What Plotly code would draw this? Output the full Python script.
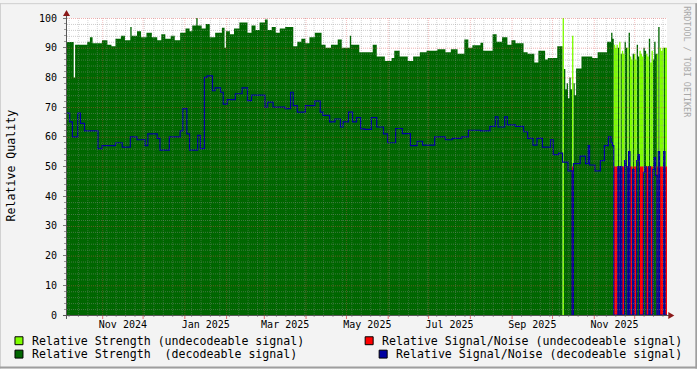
import pandas as pd
import plotly.graph_objects as go

# ---------------- data ----------------
START = pd.Timestamp("2024-10-05 12:00")
END = START + pd.Timedelta(days=445.5)

# Relative strength (decodeable signal): step breakpoints (day offset from START, value)
str_dec_day = [0, 5, 6, 15, 17, 19, 26, 30, 33, 36, 40, 43, 47, 48, 52, 55, 59, 63, 67, 70,
               73, 77, 80, 84, 88, 91, 93, 96, 97, 100, 103, 106, 110, 115, 117, 118, 121, 124, 128, 134,
               137, 140, 143, 147, 149, 152, 155, 158, 162, 168, 171, 174, 177, 180, 184, 189, 192, 196, 201, 204,
               210, 211, 217, 227, 230, 236, 241, 243, 247, 253, 257, 262, 267, 275, 281, 285, 290, 295, 298, 301,
               307, 309, 316, 319, 323, 327, 330, 333, 339, 342, 347, 350, 355, 357, 364, 368, 369, 370, 371, 372,
               373, 374, 375, 376, 377, 378, 382, 390, 394, 401, 404]
str_dec_val = [91.9, 80, 91, 92, 93.5, 91.5, 92.5, 91, 90.5, 93, 94, 92.5, 97, 94, 95.5, 93.5, 95, 93.5, 92.5, 94.5,
               93, 94, 92.5, 95, 96.5, 95.5, 97.5, 100, 97.5, 96.5, 98, 93.5, 95, 96.7, 90, 95.5, 94.5, 96.5, 98.5, 95,
               97.5, 96, 98.5, 99.5, 96, 97, 95, 96.5, 97, 90.5, 92, 93, 91.5, 93.5, 95, 91, 90, 91, 92.8, 90,
               94, 91, 88.5, 91, 87, 85.5, 86.5, 89, 87, 85.5, 87, 88.5, 89, 89.5, 88.5, 89.5, 88, 92.8, 90, 90.8,
               91.7, 89, 94.5, 92, 93.5, 91, 92.5, 91.5, 88.5, 88, 85, 89, 86, 86.5, 90.5, 0, 82.8, 76, 78, 73,
               80, 76, 0, 78, 74, 83, 87, 86.5, 88.5, 92, 95]

# Relative strength (undecodeable signal)
str_und_day = [0, 368, 369, 375, 376]
str_und_val = [0, 100, 0, 94, 0]

# Relative signal/noise (decodeable signal)
snr_dec_day = [0, 2, 4, 8, 10, 13, 23, 26, 36, 41, 47, 52, 58, 60, 67, 69, 76, 84, 86, 89,
               91, 97, 99, 102, 104, 108, 110, 114, 116, 119, 125, 130, 134, 137, 147, 149, 153, 162, 166, 168,
               171, 177, 184, 188, 190, 195, 199, 203, 205, 209, 212, 215, 218, 221, 226, 230, 235, 238, 244, 249,
               255, 260, 264, 273, 281, 286, 293, 298, 307, 314, 318, 320, 325, 327, 333, 339, 342, 346, 349, 353,
               359, 361, 365, 368, 372, 375, 376, 381, 385, 387, 388, 392, 396, 399, 402, 404]
snr_dec_val = [68, 65, 60, 68, 64.5, 62, 56, 57, 58, 56.5, 60, 59, 57, 61, 59.5, 55.5, 60, 62, 69.5, 61,
               55.5, 60.5, 56, 80, 80.5, 75.5, 76.5, 75, 71, 72.5, 74.5, 76.5, 72.2, 74, 70, 71.7, 70, 69.5, 75, 70.5,
               68.3, 70.5, 72, 68.3, 67.2, 65, 66, 63.3, 65, 68.3, 65, 66.5, 62.7, 62.5, 66.5, 63.3, 61, 58, 62.8, 61.1,
               57, 58.5, 57.2, 60, 59, 59.5, 60, 62.2, 62, 63.5, 66.7, 63.3, 66.7, 64, 63.5, 61.7, 59.5, 57.2, 59.5, 56.5,
               59, 54, 54.5, 51.5, 48.5, 0, 51, 53.5, 51, 57, 50.5, 48.5, 52, 57, 60, 58]

# Relative signal/noise (undecodeable signal)
snr_und_day = [0, 375, 376]
snr_und_val = [0, 50, 0]

# Last weeks, one entry per day from day 405: decodeable flag, strength, signal/noise
tail_day0 = 405
tail_ok = [1, 0, 0, 0, 1, 0, 1, 0, 0, 1, 1, 0, 1, 0, 0, 1, 0, 0, 1, 1,
           0, 0, 0, 1, 1, 0, 0, 1, 0, 0, 1, 1, 1, 0, 1, 0, 0, 0, 1, 0]
tail_strength = [93, 91, 90, 91, 90, 92, 88, 89, 88, 92, 90, 90, 95, 87, 86, 88, 88, 86, 91, 87,
                 89, 88, 87, 90, 89, 88, 87, 93, 85, 89, 86, 92, 88, 88, 97, 90, 89, 90, 90, 90]
tail_snr = [57, 50, 50, 50, 50, 50, 50, 50, 50, 52, 50, 50, 55, 50, 50, 49, 50, 50, 52, 54,
            50, 50, 50, 48, 50, 50, 50, 50, 50, 50, 49, 53, 47, 50, 55, 50, 50, 50, 55, 50]

y_ticks = list(range(0, 101, 10))
x_label_months = ["2024-11", "2025-01", "2025-03", "2025-05", "2025-07", "2025-09", "2025-11"]
x_label_text = ["Nov 2024", "Jan 2025", "Mar 2025", "May 2025", "Jul 2025", "Sep 2025", "Nov 2025"]

assert len(str_dec_day) == len(str_dec_val)
assert len(snr_dec_day) == len(snr_dec_val)
assert len(tail_ok) == len(tail_strength) == len(tail_snr)

# ---------------- build series ----------------
def build(days, vals, tail_vals):
    d = list(days) + [tail_day0 + i for i in range(len(tail_vals))]
    v = list(vals) + list(tail_vals)
    x = [START + pd.Timedelta(days=k) for k in d] + [END]
    v = v + [v[-1]]
    return x, v

x_sd, y_sd = build(str_dec_day, str_dec_val, [s if ok else 0 for s, ok in zip(tail_strength, tail_ok)])
x_su, y_su = build(str_und_day, str_und_val, [0 if ok else s for s, ok in zip(tail_strength, tail_ok)])
x_nu, y_nu = build(snr_und_day, snr_und_val, [0 if ok else s for s, ok in zip(tail_snr, tail_ok)])
x_nd, y_nd = build(snr_dec_day, snr_dec_val, [s if ok else 0 for s, ok in zip(tail_snr, tail_ok)])

DARK = "#006600"
LIGHT = "#7FFF00"
RED = "#FF0000"
BLUE = "#0000A0"
FONT = "DejaVu Sans Mono"

fig = go.Figure()
fig.add_trace(go.Scatter(x=x_sd, y=y_sd, mode="lines", line=dict(shape="hv", width=0, color=DARK),
                         fill="tozeroy", fillcolor=DARK, hoverinfo="skip", showlegend=False))
fig.add_trace(go.Scatter(x=x_su, y=y_su, mode="lines", line=dict(shape="hv", width=0, color=LIGHT),
                         fill="tozeroy", fillcolor=LIGHT, hoverinfo="skip", showlegend=False))
fig.add_trace(go.Scatter(x=x_nu, y=y_nu, mode="lines", line=dict(shape="hv", width=0, color=RED),
                         fill="tozeroy", fillcolor=RED, hoverinfo="skip", showlegend=False))
fig.add_trace(go.Scatter(x=x_nd, y=y_nd, mode="lines", line=dict(shape="hv", width=1.2, color=BLUE),
                         hoverinfo="skip", showlegend=False))

# ---------------- layout geometry ----------------
W, H = 697, 369
L, R, T, B = 67, 666.7, 15, 315
PW, PH = R - L, B - T

def px(xp):
    return (xp - L) / PW

def py(yp):
    return (B - yp) / PH

shapes = []
GRID_MINOR = "rgba(143,143,143,0.45)"
GRID_MAJOR = "rgba(222,80,80,0.45)"
GRID_MINOR_V = "rgba(143,143,143,0.35)"
GRID_MAJOR_V = "rgba(222,80,80,0.35)"
DASH = "1px,1px"

# horizontal grid (half-pixel shift keeps the 1px lines crisp)
for v in range(2, 101, 2):
    major = v % 10 == 0
    yy = py(B - 3 * v + 0.5)
    shapes.append(dict(type="line", xref="paper", yref="paper", x0=0, x1=1, y0=yy, y1=yy, layer="above",
                       line=dict(color=GRID_MAJOR if major else GRID_MINOR, width=1, dash=DASH)))

# vertical grid: weeks (minor) and months (major)
weeks = pd.date_range(START.normalize(), END, freq="W-MON")
months = pd.date_range(START.normalize(), END, freq="MS")
for w in weeks:
    if w in months:
        continue
    shapes.append(dict(type="line", xref="x", yref="paper", x0=w, x1=w, y0=0, y1=1, layer="above",
                       line=dict(color=GRID_MINOR_V, width=1, dash=DASH)))
    shapes.append(dict(type="line", xref="x", yref="paper", x0=w, x1=w, y0=0, y1=py(B + 2), layer="above",
                       line=dict(color="#A0A0A0", width=1)))
for m in months:
    shapes.append(dict(type="line", xref="x", yref="paper", x0=m, x1=m, y0=0, y1=1, layer="above",
                       line=dict(color=GRID_MAJOR_V, width=1, dash=DASH)))
    shapes.append(dict(type="line", xref="x", yref="paper", x0=m, x1=m, y0=0, y1=py(B + 4), layer="above",
                       line=dict(color="#E07070", width=1)))

AXIS = "#555555"
ARROW = "#8B1A1A"
# axes lines
shapes.append(dict(type="line", xref="paper", yref="paper", x0=px(63), x1=px(669), y0=py(B + 0.5), y1=py(B + 0.5),
                   layer="above", line=dict(color=AXIS, width=1)))
shapes.append(dict(type="line", xref="paper", yref="paper", x0=px(66.5), x1=px(66.5), y0=py(319), y1=py(12),
                   layer="above", line=dict(color=AXIS, width=1)))
# arrows
shapes.append(dict(type="path", xref="paper", yref="paper",
                   path=f"M {px(668)} {py(312)} L {px(674)} {py(315.5)} L {px(668)} {py(319)} Z",
                   fillcolor=ARROW, line=dict(color=ARROW, width=0), layer="above"))
shapes.append(dict(type="path", xref="paper", yref="paper",
                   path=f"M {px(63)} {py(13)} L {px(66.5)} {py(7)} L {px(70)} {py(13)} Z",
                   fillcolor=ARROW, line=dict(color=ARROW, width=0), layer="above"))

# frame
shapes.append(dict(type="line", xref="paper", yref="paper", x0=px(0), x1=px(W), y0=py(0.5), y1=py(0.5),
                   line=dict(color="#CFCFCF", width=1)))
shapes.append(dict(type="line", xref="paper", yref="paper", x0=px(0.5), x1=px(0.5), y0=py(0), y1=py(H),
                   line=dict(color="#CFCFCF", width=1)))
shapes.append(dict(type="line", xref="paper", yref="paper", x0=px(0), x1=px(W), y0=py(H - 1), y1=py(H - 1),
                   line=dict(color="#9E9E9E", width=2)))
shapes.append(dict(type="line", xref="paper", yref="paper", x0=px(W - 1), x1=px(W - 1), y0=py(0), y1=py(H),
                   line=dict(color="#9E9E9E", width=2)))

annotations = []
legend_items = [
    (15, 341, LIGHT, 30, "Relative Strength (undecodeable signal)"),
    (15, 354.5, DARK, 30, "Relative Strength\u00a0\u00a0(decodeable signal)"),
    (365, 341, RED, 380, "Relative Signal/Noise (undecodeable signal)"),
    (379, 354.5, BLUE, 394, "Relative Signal/Noise (decodeable signal)"),
]
for sx, cy, col, tx, txt in legend_items:
    shapes.append(dict(type="rect", xref="paper", yref="paper", x0=px(sx), x1=px(sx + 8),
                       y0=py(cy - 4), y1=py(cy + 4), fillcolor=col, line=dict(color="black", width=1)))
    annotations.append(dict(x=px(tx), y=py(cy), xref="paper", yref="paper", text=txt, showarrow=False,
                            xanchor="left", yanchor="middle", font=dict(family=FONT, size=11.6, color="black")))

annotations.append(dict(x=px(11), y=py(164), xref="paper", yref="paper", text="Relative Quality",
                        textangle=-90, showarrow=False, xanchor="center", yanchor="middle",
                        font=dict(family=FONT, size=11.6, color="black")))
annotations.append(dict(x=px(687), y=py(60), xref="paper", yref="paper", text="RRDTOOL / TOBI OETIKER",
                        textangle=90, showarrow=False, xanchor="center", yanchor="middle",
                        font=dict(family=FONT, size=8.4, color="#A8A8A8")))

# tick label positions at the middle of each labelled month
tick_pos = []
for m in x_label_months:
    ms = pd.Timestamp(m + "-01")
    me = ms + pd.offsets.MonthBegin(1)
    tick_pos.append(ms + (me - ms) / 2)

fig.update_layout(
    width=W, height=H,
    margin=dict(l=L, r=W - R, t=T, b=H - B, pad=0),
    paper_bgcolor="#F3F3F3", plot_bgcolor="white",
    shapes=shapes, annotations=annotations,
    showlegend=False,
    xaxis=dict(range=[START, END], type="date", tickvals=tick_pos, ticktext=x_label_text,
               ticks="", showgrid=False, zeroline=False, showline=False,
               tickfont=dict(family=FONT, size=10, color="black"), ticklabelstandoff=2),
    yaxis=dict(range=[0, 100], tickvals=y_ticks, ticks="outside", ticklen=3, tickcolor="#777777",
               showgrid=False, zeroline=False, showline=False,
               minor=dict(dtick=2, ticks="outside", ticklen=2, tickcolor="#999999", showgrid=False),
               tickfont=dict(family=FONT, size=10, color="black"), ticklabelstandoff=4),
)

fig.write_html("out.html")
